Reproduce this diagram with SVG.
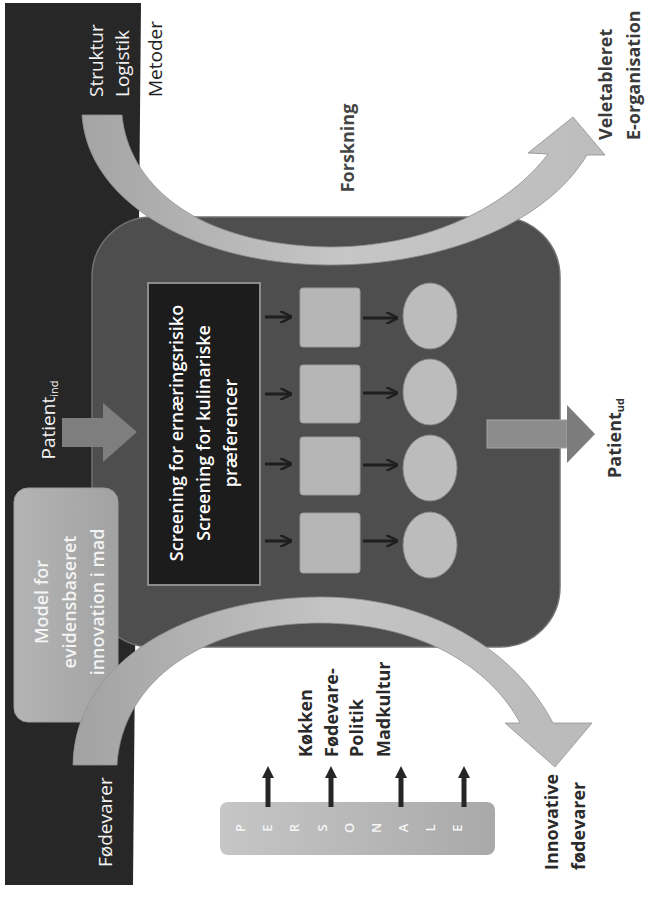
<svg xmlns="http://www.w3.org/2000/svg" width="652" height="899" viewBox="0 0 652 899">
<style>
.wt{fill:#f2f2f2;font-family:"Open Sans","Liberation Sans",sans-serif;font-size:19px}
.bl{fill:#2a2a2a;font-family:"Open Sans","Liberation Sans",sans-serif;font-size:18px;font-weight:700}
.scr{fill:#ffffff;font-family:"Open Sans","Liberation Sans",sans-serif;font-size:18px;font-weight:600;text-anchor:middle}
.mod{fill:#f4f4f4;font-family:"Open Sans","Liberation Sans",sans-serif;font-size:18px;font-weight:600;text-anchor:middle}
.let{fill:#f6f6f6;font-family:"Open Sans","Liberation Sans",sans-serif;font-size:13px;font-weight:600;text-anchor:middle}
.sq{fill:#b6b6b6;stroke:#9a9a9a;stroke-width:1}
.ci{fill:#bcbcbc;stroke:#8a8a8a;stroke-width:1}
.sa{stroke:#1e1e1e;stroke-width:3;fill:none}
.pa{stroke:#262626;stroke-width:5;fill:none}
</style>
<defs>
<linearGradient id="gTop" x1="0" y1="0" x2="1" y2="0">
<stop offset="0" stop-color="#a4a4a4"/><stop offset="0.5" stop-color="#c6c6c6"/><stop offset="1" stop-color="#bdbdbd"/>
</linearGradient>
<linearGradient id="gBot" x1="0" y1="0" x2="1" y2="0">
<stop offset="0" stop-color="#a2a2a2"/><stop offset="0.5" stop-color="#c4c4c4"/><stop offset="1" stop-color="#bababa"/>
</linearGradient>
<linearGradient id="gPers" x1="0" y1="0" x2="1" y2="0">
<stop offset="0" stop-color="#c6c6c6"/><stop offset="1" stop-color="#a9a9a9"/>
</linearGradient>
<linearGradient id="gModel" x1="0" y1="0" x2="1" y2="0">
<stop offset="0" stop-color="#b4b4b4"/><stop offset="1" stop-color="#a2a2a2"/>
</linearGradient>
<marker id="ah" viewBox="0 0 10 10" refX="9" refY="5" markerWidth="4" markerHeight="4" orient="auto">
<path d="M0,0 L10,5 L0,10" fill="none" stroke="#1e1e1e" stroke-width="2"/>
</marker>
<marker id="ph" viewBox="0 0 10 10" refX="5" refY="5" markerWidth="2.4" markerHeight="2.4" orient="auto">
<path d="M0,0 L10,5 L0,10 Z" fill="#262626"/>
</marker>
</defs>

<rect width="652" height="899" fill="#ffffff"/>

<g id="background-band">
<polygon points="5,3 141,3 133,885 5,885" fill="#272727"/>
</g>

<g id="process-frame">
<rect x="92" y="217" width="468" height="430" rx="60" fill="#4e4e4e" stroke="#727272" stroke-width="1.5"/>
</g>

<g id="model-box">
<rect x="14" y="488" width="104" height="234" rx="14" fill="url(#gModel)" stroke="#9c9c9c" stroke-width="1"/>
<text class="mod" transform="translate(48,602) rotate(-90)">Model for</text>
<text class="mod" transform="translate(76,602) rotate(-90)">evidensbaseret</text>
<text class="mod" transform="translate(104,602) rotate(-90)">innovation i mad</text>
</g>

<g id="screening">
<rect x="148" y="283" width="112" height="302" fill="#1c1c1c" stroke="#8c8c8c" stroke-width="2"/>
<text class="scr" transform="translate(183,433) rotate(-90)">Screening for ernæringsrisiko</text>
<text class="scr" transform="translate(210,433) rotate(-90)">Screening for kulinariske</text>
<text class="scr" transform="translate(237,433) rotate(-90)">præferencer</text>
</g>

<g id="menus">
<rect class="sq" x="300" y="288" width="60" height="59" rx="3"/>
<rect class="sq" x="300" y="365" width="60" height="58" rx="3"/>
<rect class="sq" x="300" y="437" width="60" height="58" rx="3"/>
<rect class="sq" x="300" y="513" width="60" height="60" rx="3"/>
</g>

<g id="outcomes">
<ellipse class="ci" cx="430" cy="316" rx="27" ry="33"/>
<ellipse class="ci" cx="430" cy="392" rx="27" ry="33"/>
<ellipse class="ci" cx="430" cy="468" rx="27" ry="33"/>
<ellipse class="ci" cx="430" cy="545" rx="27" ry="33"/>
</g>

<g id="personale">
<rect x="220" y="802" width="275" height="53" rx="8" fill="url(#gPers)"/>
<text class="let" transform="translate(245,828) rotate(-90)">P</text>
<text class="let" transform="translate(272,828) rotate(-90)">E</text>
<text class="let" transform="translate(299,828) rotate(-90)">R</text>
<text class="let" transform="translate(327,828) rotate(-90)">S</text>
<text class="let" transform="translate(354,828) rotate(-90)">O</text>
<text class="let" transform="translate(381,828) rotate(-90)">N</text>
<text class="let" transform="translate(408,828) rotate(-90)">A</text>
<text class="let" transform="translate(435,828) rotate(-90)">L</text>
<text class="let" transform="translate(462,828) rotate(-90)">E</text>
</g>

<g id="connectors">
<path d="M82,115 L122,115 C128,180 190,245 330,247 C430,247 510,205 548,154 L528,153 L573,117 L605,155 L587,155 C545,225 440,265 330,265 C200,265 88,205 82,115 Z" fill="url(#gTop)" stroke="#8e8e8e" stroke-width="0.8"/>
<path d="M73,765 C75,660 190,598 320,597 C430,597 515,650 553,723 L592,723 L555,767 L505,723 L520,723 C495,675 430,623 320,623 C205,623 122,680 117,765 Z" fill="url(#gBot)" stroke="#949494" stroke-width="0.8"/>
<polygon points="62,418 103,418 103,403 137,432 103,462 103,447 62,447" fill="#7e7e7e"/>
<rect x="487" y="420" width="80" height="28" fill="#8c8c8c" stroke="#a4a4a4" stroke-width="1"/>
<polygon points="567,405 595,434 567,463" fill="#7c7c7c"/>
<line class="sa" x1="265" y1="317" x2="291" y2="317" marker-end="url(#ah)"/>
<line class="sa" x1="265" y1="394" x2="291" y2="394" marker-end="url(#ah)"/>
<line class="sa" x1="265" y1="464" x2="291" y2="464" marker-end="url(#ah)"/>
<line class="sa" x1="265" y1="541" x2="291" y2="541" marker-end="url(#ah)"/>
<line class="sa" x1="363" y1="318" x2="397" y2="318" marker-end="url(#ah)"/>
<line class="sa" x1="363" y1="393" x2="397" y2="393" marker-end="url(#ah)"/>
<line class="sa" x1="363" y1="465" x2="397" y2="465" marker-end="url(#ah)"/>
<line class="sa" x1="363" y1="541" x2="397" y2="541" marker-end="url(#ah)"/>
<line class="pa" x1="268" y1="807" x2="268" y2="772" marker-end="url(#ph)"/>
<line class="pa" x1="331" y1="807" x2="331" y2="772" marker-end="url(#ph)"/>
<line class="pa" x1="401" y1="807" x2="401" y2="772" marker-end="url(#ph)"/>
<line class="pa" x1="464" y1="807" x2="464" y2="772" marker-end="url(#ph)"/>
</g>

<g id="labels">
<text class="wt" transform="translate(103,97) rotate(-90)">Struktur</text>
<text class="wt" transform="translate(129,97) rotate(-90)">Logistik</text>
<text class="wt" style="fill:#222222" transform="translate(162,97) rotate(-90)">Metoder</text>
<text class="bl" style="fill:#444444;text-anchor:middle" transform="translate(354,148) rotate(-90)">Forskning</text>
<text class="bl" style="fill:#3a3a3a" transform="translate(612,140) rotate(-90)">Veletableret</text>
<text class="bl" style="fill:#3a3a3a" transform="translate(640,140) rotate(-90)">E-organisation</text>
<text class="wt" style="text-anchor:middle" transform="translate(55,420) rotate(-90)">Patient<tspan font-size="11" dy="3">ind</tspan></text>
<text class="bl" style="fill:#333333;text-anchor:middle" transform="translate(621,438) rotate(-90)">Patient<tspan font-size="11" dy="3">ud</tspan></text>
<text class="wt" transform="translate(112,867) rotate(-90)">Fødevarer</text>
<text class="bl" transform="translate(312,757) rotate(-90)">Køkken</text>
<text class="bl" transform="translate(338,757) rotate(-90)">Fødevare-</text>
<text class="bl" transform="translate(363,757) rotate(-90)">Politik</text>
<text class="bl" transform="translate(390,757) rotate(-90)">Madkultur</text>
<text class="bl" transform="translate(558,870) rotate(-90)">Innovative</text>
<text class="bl" transform="translate(585,870) rotate(-90)">fødevarer</text>
</g>
</svg>
